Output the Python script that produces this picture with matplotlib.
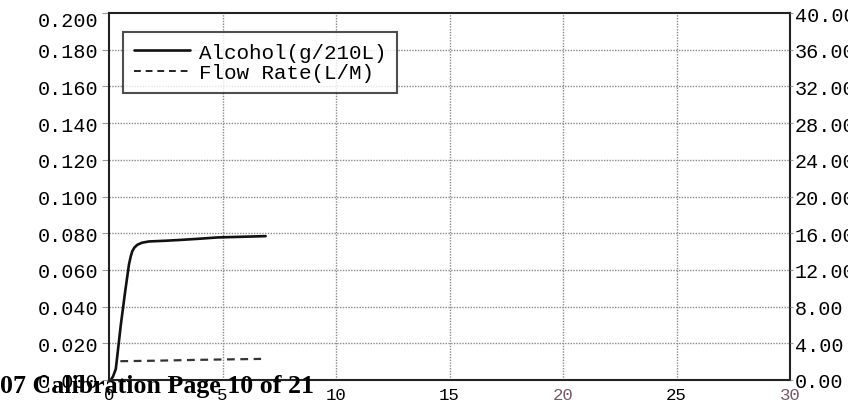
import numpy as np
import matplotlib
matplotlib.use('Agg')
import matplotlib.pyplot as plt
import matplotlib.transforms as mtransforms

# ==========================================
# DATOS
# ==========================================
tiempo = [0.08, 0.18, 0.3, 0.52, 0.71, 0.88, 0.96, 1.03, 1.12, 1.25, 1.45, 1.76, 2.5, 3.1, 4.0, 4.8, 6.0, 6.9]
alcohol = [0.0, 0.002, 0.006, 0.030, 0.048, 0.063, 0.0675, 0.0703, 0.0722, 0.0737, 0.0748, 0.0755,
           0.0759, 0.0763, 0.0770, 0.0777, 0.0781, 0.0784]

tiempo_flujo = [0.5, 2.0, 4.0, 6.7]
flujo = [2.05, 2.1, 2.2, 2.3]

ticks_x = [0, 5, 10, 15, 20, 25, 30]
ticks_izq = np.arange(0, 0.2001, 0.02)
ticks_der = np.arange(0, 40.01, 4)

pie_texto = '07 Calibration Page 10 of 21'

# ==========================================
# GRAFICA
# ==========================================
plt.rcParams['font.family'] = ['Liberation Mono', 'DejaVu Sans Mono']
fig = plt.figure(figsize=(8.48, 4.06), dpi=100)
ax = fig.add_axes([109 / 848, 25 / 406, 681 / 848, 367 / 406])

ax.plot(tiempo, alcohol, color='#111111', linewidth=1.9, label='Alcohol(g/210L)',
        solid_capstyle='round', solid_joinstyle='round')
# linea auxiliar solo para la leyenda
ax.plot([], [], color='#222222', linewidth=1.4, linestyle=(0, (3.5, 2.5)), label='Flow Rate(L/M)')

ax.set_xlim(0, 30)
ax.set_ylim(0, 0.2)
ax.set_xticks(ticks_x)
ax.set_yticks(ticks_izq)
ax.set_yticklabels([f'{v:.3f}' for v in ticks_izq])

# rejilla punteada
for v in ticks_izq[1:-1]:
    ax.axhline(v, color='#8a8a8a', linestyle=(0, (1, 1)), linewidth=1.0, zorder=0)
for v in ticks_x[1:-1]:
    ax.axvline(v, color='#8a8a8a', linestyle=(0, (1, 1)), linewidth=1.0, zorder=0)

ax.tick_params(axis='y', labelsize=14.5, length=5, color='#9a9a9a', pad=3)
ax.tick_params(axis='x', labelsize=12.5, length=0, pad=5)
for lab in ax.get_xticklabels():
    if lab.get_text() in ('20', '30'):
        lab.set_color('#7a5868')

# la etiqueta superior aparece algo mas abajo en el original
desplazar = mtransforms.ScaledTranslation(0, -6 / 100, fig.dpi_scale_trans)
ax.get_yticklabels()[-1].set_transform(ax.get_yticklabels()[-1].get_transform() + desplazar)

for s in ax.spines.values():
    s.set_linewidth(1.5)
    s.set_color('#222222')

# eje derecho: caudal
ax2 = ax.twinx()
ax2.plot(tiempo_flujo, flujo, color='#333333', linewidth=1.6, linestyle=(0, (3.5, 2.5)))
ax2.set_ylim(0, 40)
ax2.set_yticks(ticks_der)
ax2.set_yticklabels([f'{v:.2f}' for v in ticks_der])
ax2.tick_params(axis='y', labelsize=14.5, length=2, color='#9a9a9a', pad=1.5)
for s in ax2.spines.values():
    s.set_visible(False)

leg = ax.legend(loc='upper left', bbox_to_anchor=(0.021, 0.948), borderaxespad=0,
                fontsize=15, frameon=True, fancybox=False, handlelength=2.7,
                handletextpad=0.45, borderpad=0.5, labelspacing=0.08)
leg.get_frame().set_edgecolor('#222222')
leg.get_frame().set_linewidth(1.5)

# pie de pagina del documento escaneado
fig.text(0.0, 13 / 406, pie_texto, fontsize=18.6, fontweight='bold',
         family='Liberation Serif', ha='left', va='baseline', color='black')

fig.savefig('out.png', dpi=100)
